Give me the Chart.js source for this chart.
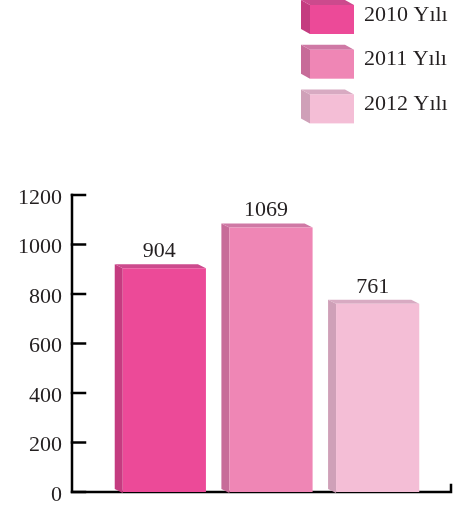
<!DOCTYPE html>
<html>
<head>
<meta charset="utf-8">
<script src="https://cdn.jsdelivr.net/npm/chart.js@4.4.0/dist/chart.umd.min.js"></script>
<style>
  html, body { margin: 0; padding: 0; background: #fff; }
</style>
</head>
<body>
<canvas id="myChart" width="463" height="510"></canvas>
<script>
var years = ['2010 Yılı', '2011 Yılı', '2012 Yılı'];
var counts = [904, 1069, 761];
var yTicks = [0, 200, 400, 600, 800, 1000, 1200];

var frontColors = ['#EC4A98', '#EF86B5', '#F4BED6'];
var sideColors = ['#C43C80', '#C76C99', '#CFA0B8'];
var topColors = ['#CC4A8D', '#CF79A5', '#D8AAC2'];

var FONT = '"Liberation Serif", "DejaVu Serif", serif';
var INK = '#231F20';

// left side face + top face of a box, front face optional
function box3d(c, x, y, w, h, dx, dy, front, side, top) {
    c.fillStyle = side;
    c.beginPath();
    c.moveTo(x, y);
    c.lineTo(x + dx, y + dy);
    c.lineTo(x + dx, y + h + dy);
    c.lineTo(x, y + h);
    c.closePath();
    c.fill();

    c.fillStyle = top;
    c.beginPath();
    c.moveTo(x, y);
    c.lineTo(x + dx, y + dy);
    c.lineTo(x + w + dx, y + dy);
    c.lineTo(x + w, y);
    c.closePath();
    c.fill();

    if (front) {
        c.fillStyle = front;
        c.fillRect(x, y, w, h);
    }
}

var axesAndFaces = {
    id: 'axesAndFaces',
    beforeDatasetsDraw: function(chart) {
        var c = chart.ctx;
        var ys = chart.scales.y;
        var y0 = ys.getPixelForValue(0);
        var yTop = ys.getPixelForValue(1200);

        c.save();
        c.strokeStyle = '#000';
        c.lineWidth = 2.5;
        c.lineCap = 'square';
        c.beginPath();
        c.moveTo(72, yTop);
        c.lineTo(72, y0);
        c.lineTo(451, y0);
        c.lineTo(451, y0 - 7);
        c.stroke();

        yTicks.forEach(function(v) {
            var py = ys.getPixelForValue(v);
            c.beginPath();
            c.moveTo(72, py);
            c.lineTo(85, py);
            c.stroke();
        });

        // side and top faces of the bars
        chart.getDatasetMeta(0).data.forEach(function(bar, i) {
            var left = bar.x - bar.width / 2;
            box3d(c, left, bar.y, bar.width, bar.base - bar.y + 1, -8, -4, null, sideColors[i], topColors[i]);
        });
        c.restore();
    },
    afterDatasetsDraw: function(chart) {
        var c = chart.ctx;
        c.save();
        c.font = '22px ' + FONT;
        c.fillStyle = INK;
        c.textAlign = 'center';
        c.textBaseline = 'alphabetic';
        chart.getDatasetMeta(0).data.forEach(function(bar, i) {
            c.fillText(String(counts[i]), bar.x - 5, bar.y - 11);
        });
        c.restore();
    },
    afterDraw: function(chart) {
        var c = chart.ctx;
        c.save();
        c.font = '22px ' + FONT;
        c.textAlign = 'left';
        c.textBaseline = 'middle';
        years.forEach(function(label, i) {
            var tc = 15 + i * 44.7;
            box3d(c, 310, tc - 10, 44, 29, -9, -5, frontColors[i], sideColors[i], topColors[i]);
            c.fillStyle = INK;
            c.fillText(label, 364, tc);
        });
        c.restore();
    }
};

var ctx = document.getElementById('myChart').getContext('2d');
var myBarChart = new Chart(ctx, {
    type: 'bar',
    data: {
        labels: years,
        datasets: [{
            data: counts,
            backgroundColor: frontColors,
            borderWidth: 0,
            categoryPercentage: 1,
            barPercentage: 0.78
        }]
    },
    options: {
        responsive: false,
        devicePixelRatio: 1,
        animation: false,
        layout: {
            padding: { top: 195, bottom: 18, left: 0, right: 32 }
        },
        scales: {
            x: { display: false },
            y: {
                min: 0,
                max: 1200,
                afterFit: function(scale) {
                    scale.width = 111;
                    scale.paddingTop = 0;
                    scale.paddingBottom = 0;
                },
                afterBuildTicks: function(scale) {
                    scale.ticks = yTicks.map(function(v) { return { value: v }; });
                },
                grid: { display: false, drawTicks: false },
                border: { display: false },
                ticks: {
                    padding: 49,
                    labelOffset: 3,
                    color: INK,
                    font: { family: FONT, size: 22 },
                    callback: function(v) { return String(v); }
                }
            }
        },
        plugins: {
            legend: { display: false },
            tooltip: { enabled: false }
        }
    },
    plugins: [axesAndFaces]
});
</script>
</body>
</html>
